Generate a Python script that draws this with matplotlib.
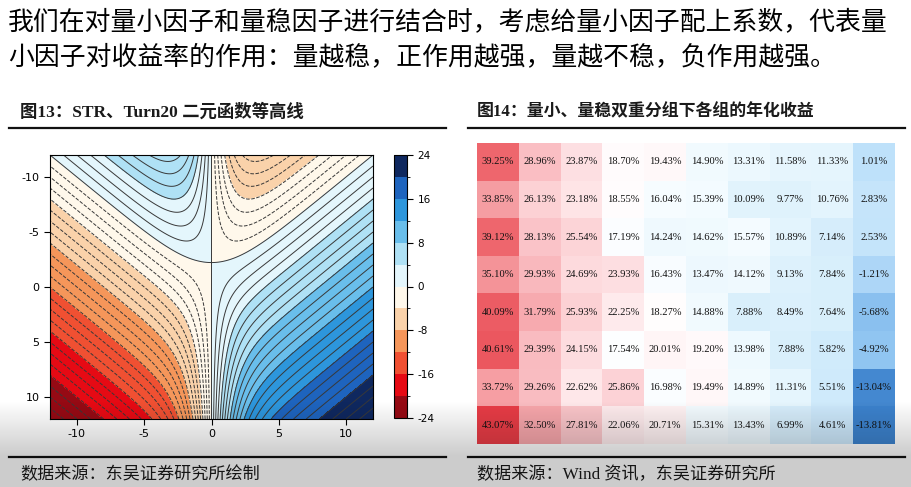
import numpy as np
import matplotlib.pyplot as plt
from matplotlib.colors import ListedColormap, LinearSegmentedColormap, BoundaryNorm

plt.rcParams['axes.unicode_minus'] = False

W, H = 912, 487
CJK = ['Noto Sans CJK SC', 'DejaVu Sans']
SERIF_CJK = ['Liberation Serif', 'Noto Sans CJK SC']


def box(x0, y0, x1, y1):
    # pixel box (top-left origin) -> figure fraction
    return [x0 / W, 1 - y1 / H, (x1 - x0) / W, (y1 - y0) / H]


# Figure 13: STR / Turn20 bivariate function -------------------------------
str_lim = (-12, 12)
turn_lim = (-12, 12)
steepness = 0.45
fill_levels = np.arange(-24, 25, 4)
line_levels = np.arange(-24, 25, 1)
cbar_ticks = [24, 16, 8, 0, -8, -16, -24]
axis_ticks = [-10, -5, 0, 5, 10]
band_colors = ['#960a14', '#e60a14', '#f05032', '#f5965a', '#fad2aa', '#fff8eb',
               '#e4f6fc', '#afe1f5', '#69beeb', '#2d96dc', '#1e64be', '#0f285f']

# Figure 14: annualised return, double sort groups ---------------------------
row1 = [39.25, 28.96, 23.87, 18.70, 19.43, 14.90, 13.31, 11.58, 11.33, 1.01]
row2 = [33.85, 26.13, 23.18, 18.55, 16.04, 15.39, 10.09, 9.77, 10.76, 2.83]
row3 = [39.12, 28.13, 25.54, 17.19, 14.24, 14.62, 15.57, 10.89, 7.14, 2.53]
row4 = [35.10, 29.93, 24.69, 23.93, 16.43, 13.47, 14.12, 9.13, 7.84, -1.21]
row5 = [40.09, 31.79, 25.93, 22.25, 18.27, 14.88, 7.88, 8.49, 7.64, -5.68]
row6 = [40.61, 29.39, 24.15, 17.54, 20.01, 19.20, 13.98, 7.88, 5.82, -4.92]
row7 = [33.72, 29.26, 22.62, 25.86, 16.98, 19.49, 14.89, 11.31, 5.51, -13.04]
row8 = [43.07, 32.50, 27.81, 22.06, 20.71, 15.31, 13.43, 6.99, 4.61, -13.81]
returns = np.array([row1, row2, row3, row4, row5, row6, row7, row8])

# colour scale anchors (value, colour) like the excel conditional format
heat_vals = [-14.0, -5.0, 1.0, 8.0, 15.0, 18.0, 22.0, 29.0, 35.0, 43.1]
heat_cols = ['#3c82cd', '#91c6f2', '#bee1fa', '#daf0fc', '#f2fbff', '#ffffff',
             '#ffecee', '#fabec3', '#f5969b', '#e83c46']

body_text = ['我们在对量小因子和量稳因子进行结合时，考虑给量小因子配上系数，代表量',
             '小因子对收益率的作用：量越稳，正作用越强，量越不稳，负作用越强。']

fig = plt.figure(figsize=(W / 100, H / 100), dpi=100)

# body text
fig.text(8 / W, 1 - 22 / H, body_text[0], family=CJK, fontsize=18.6, va='center', ha='left')
fig.text(8 / W, 1 - 57 / H, body_text[1], family=CJK, fontsize=18.6, va='center', ha='left')

# captions and rules
fig.text(20 / W, 1 - 112 / H, '图13：STR、Turn20 二元函数等高线', family=SERIF_CJK,
         fontsize=12.5, fontweight='bold', va='center', color='#1a1a1a')
fig.text(477 / W, 1 - 112 / H, '图14：量小、量稳双重分组下各组的年化收益', family=SERIF_CJK,
         fontsize=12.2, fontweight='bold', va='center', color='#1a1a1a')
for x0, x1 in [(9, 446), (468, 905)]:
    for yy in (128, 457):
        fig.add_artist(plt.Line2D([x0 / W, x1 / W], [1 - yy / H, 1 - yy / H],
                                  color='#111111', lw=1.6))
fig.text(20 / W, 1 - 475 / H, '数据来源：东吴证券研究所绘制', family=SERIF_CJK,
         fontsize=12.3, va='center', color='#1a1a1a')
fig.text(477 / W, 1 - 475 / H, '数据来源：Wind 资讯，东吴证券研究所', family=SERIF_CJK,
         fontsize=12.3, va='center', color='#1a1a1a')

# contour plot
ax = fig.add_axes(box(50, 155, 373, 419))
xs = np.linspace(str_lim[0], str_lim[1], 481)
ys = np.linspace(turn_lim[0], turn_lim[1], 481)
X, Y = np.meshgrid(xs, ys)
Z = X + Y * np.tanh(steepness * X)
cmap = ListedColormap(band_colors)
norm = BoundaryNorm(fill_levels, cmap.N)
cf = ax.contourf(X, Y, Z, levels=fill_levels, cmap=cmap, norm=norm)
ax.contour(X, Y, Z, levels=line_levels, colors='#383838', linewidths=0.7)
ax.set_xlim(*str_lim)
ax.set_ylim(turn_lim[1], turn_lim[0])
ax.set_xticks(axis_ticks)
ax.set_yticks(axis_ticks)
ax.tick_params(labelsize=8, direction='out', length=4, width=0.8)
for sp in ax.spines.values():
    sp.set_linewidth(0.8)

cax = fig.add_axes(box(394, 155, 407, 418))
cb = fig.colorbar(cf, cax=cax, ticks=cbar_ticks)
cb.ax.tick_params(labelsize=7.5, length=4, width=0.8)
cb.outline.set_linewidth(0.8)

# heatmap
hax = fig.add_axes(box(477, 143, 895, 444))
heat_pos = [(v - heat_vals[0]) / (heat_vals[-1] - heat_vals[0]) for v in heat_vals]
heat_cmap = LinearSegmentedColormap.from_list('heat', list(zip(heat_pos, heat_cols)))
hax.imshow(returns, cmap=heat_cmap, vmin=heat_vals[0], vmax=heat_vals[-1],
           aspect='auto', interpolation='nearest')
for i in range(returns.shape[0]):
    for j in range(returns.shape[1]):
        hax.text(j, i, f'{returns[i, j]:.2f}%', ha='center', va='center',
                 family='Liberation Serif', fontsize=7.6, color='#111111')
hax.axis('off')

# screenshot vignette at the bottom
gax = fig.add_axes(box(0, 400, 912, 487), zorder=10)
alpha = np.clip((np.linspace(400, 487, 87) - 400) / 55, 0, 1) * 0.2
grad = np.zeros((87, 2, 4))
grad[:, :, 3] = alpha[:, None]
gax.imshow(grad, aspect='auto', extent=[0, 1, 1, 0])
gax.axis('off')

fig.savefig('out.png', dpi=100)
